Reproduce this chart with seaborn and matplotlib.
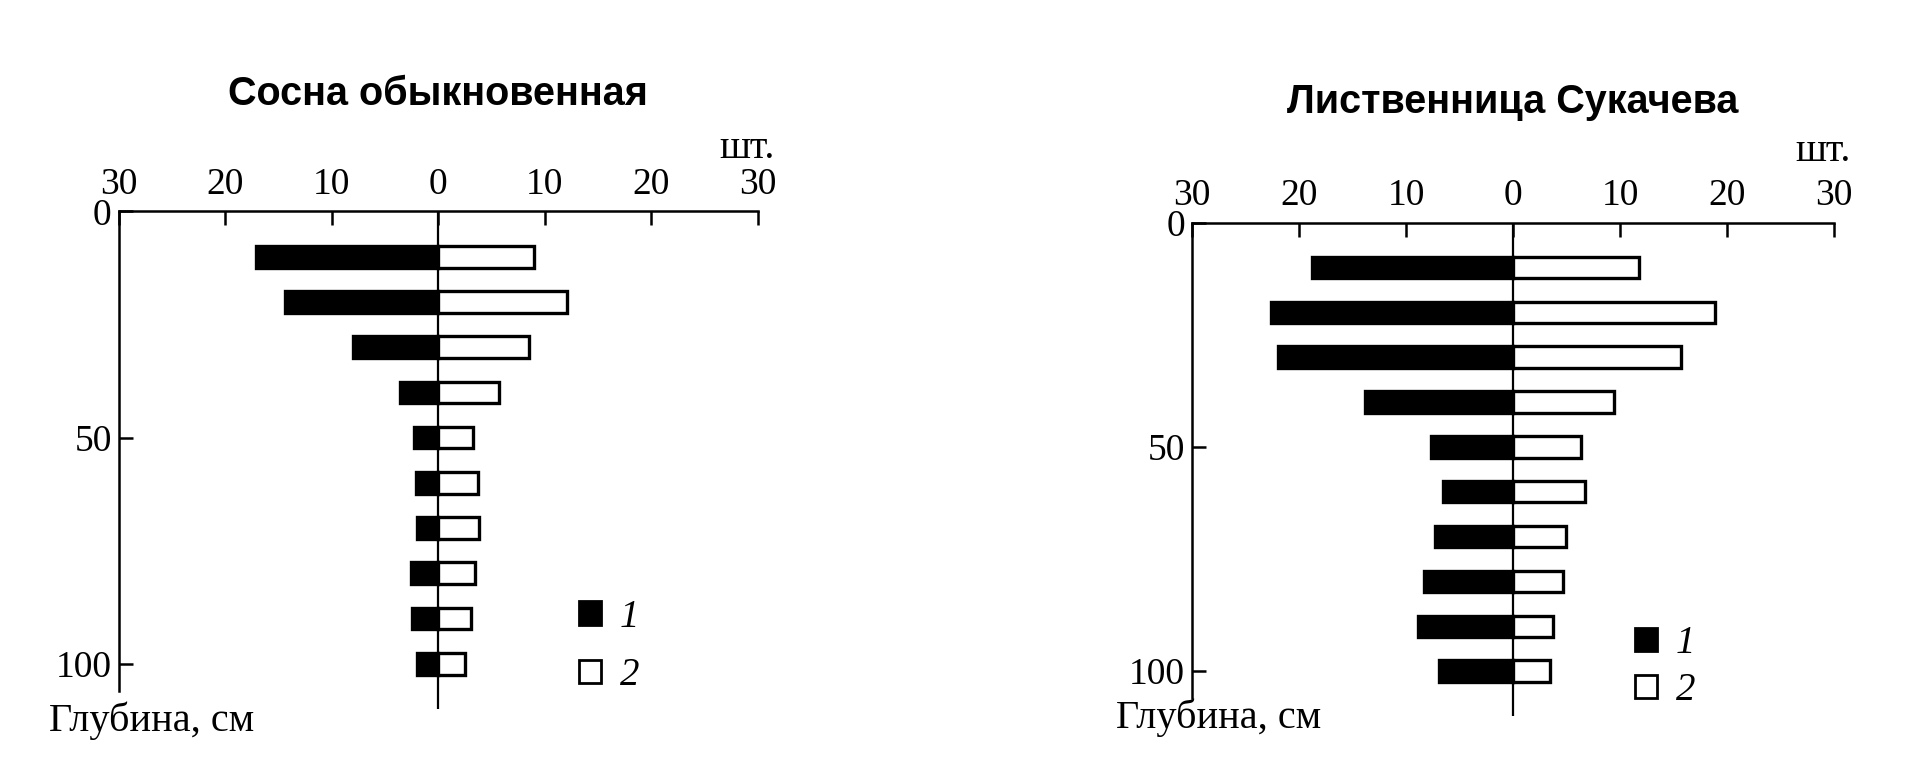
import pandas as pd
import seaborn as sns
import matplotlib.pyplot as plt
from matplotlib.patches import Patch

# depth of layer (cm) and number of roots (шт.) per layer
depth = [10, 20, 30, 40, 50, 60, 70, 80, 90, 100]
pine_1 = [17.1, 14.4, 8.0, 3.6, 2.3, 2.1, 2.0, 2.6, 2.5, 2.0]
pine_2 = [9.0, 12.1, 8.5, 5.7, 3.3, 3.7, 3.8, 3.4, 3.1, 2.5]
larch_1 = [18.8, 22.6, 22.0, 13.8, 7.7, 6.5, 7.3, 8.3, 8.9, 6.9]
larch_2 = [11.8, 18.9, 15.7, 9.4, 6.4, 6.7, 5.0, 4.7, 3.7, 3.5]

x_ticks = [-30, -20, -10, 0, 10, 20, 30]
y_ticks = [0, 50, 100]
titles = ["Сосна обыкновенная", "Лиственница Сукачева"]

sns.set_theme(style="white")
plt.rcParams["font.family"] = ["Liberation Serif", "DejaVu Serif"]
plt.rcParams["text.color"] = "black"
plt.rcParams["xtick.color"] = "black"
plt.rcParams["ytick.color"] = "black"
plt.rcParams["xtick.labelcolor"] = "black"
plt.rcParams["ytick.labelcolor"] = "black"
title_font = ["Liberation Sans Narrow", "Liberation Sans", "DejaVu Sans"]


def make_frame(left, right):
    # series 1 goes to the left (negative), series 2 to the right
    return pd.DataFrame({
        "depth": depth * 2,
        "value": [-v for v in left] + list(right),
        "kind": ["1"] * len(depth) + ["2"] * len(depth),
    })


def draw_panel(ax, df, title, title_y, unit_y, label_x, label_y,
               leg_pos, leg_space):
    sns.barplot(data=df, x="value", y="depth", hue="kind", orient="h",
                native_scale=True, dodge=False, width=0.48,
                palette={"1": "black", "2": "white"},
                edgecolor="black", linewidth=2.4, legend=False, ax=ax)

    ax.set_xlim(-30, 30)
    ax.set_ylim(110, 0)
    ax.axvline(0, color="black", lw=1.6, zorder=0)

    for side in ["right", "bottom"]:
        ax.spines[side].set_visible(False)
    for side in ["left", "top"]:
        ax.spines[side].set_linewidth(1.8)
        ax.spines[side].set_color("black")
    ax.spines["left"].set_bounds(0, 106)

    ax.xaxis.tick_top()
    ax.set_xticks(x_ticks)
    ax.set_xticklabels([str(abs(t)) for t in x_ticks])
    ax.set_yticks(y_ticks)
    ax.set_yticklabels([str(t) for t in y_ticks])
    ax.tick_params(axis="x", direction="in", length=10, width=1.8,
                   labelsize=27, pad=7, color="black", labelcolor="black")
    ax.tick_params(axis="y", direction="in", length=10, width=1.8,
                   labelsize=27, pad=5, color="black", labelcolor="black",
                   left=True)
    ax.set_xlabel("")
    ax.set_ylabel("")

    ax.text(0, title_y, title, ha="center", va="center", fontsize=28.5,
            fontweight="bold", family=title_font, color="black",
            clip_on=False)
    ax.text(29, unit_y, "шт.", ha="center", va="center", fontsize=29,
            color="black", clip_on=False)
    ax.text(label_x, label_y, "Глубина, см", ha="left", va="center",
            fontsize=29, color="black", clip_on=False)

    handles = [Patch(facecolor="black", edgecolor="black", lw=2),
               Patch(facecolor="white", edgecolor="black", lw=2)]
    leg = ax.legend(handles, ["1", "2"], loc="upper left",
                    bbox_to_anchor=leg_pos, frameon=False,
                    handlelength=0.55, handleheight=0.55,
                    handletextpad=0.5, labelspacing=leg_space,
                    borderaxespad=0, prop={"size": 28, "style": "italic"})
    for t in leg.get_texts():
        t.set_color("black")


fig = plt.figure(figsize=(19.17, 7.59), dpi=100)
ax1 = fig.add_axes([0.0619, 0.0659, 0.3335, 0.6555])
ax2 = fig.add_axes([0.6218, 0.0567, 0.3349, 0.650])

draw_panel(ax1, make_frame(pine_1, pine_2), titles[0], -25.9, -14.0,
           -36.5, 112.6, (0.696, 0.253), 0.55)
draw_panel(ax2, make_frame(larch_1, larch_2), titles[1], -26.9, -15.8,
           -37.1, 110.5, (0.666, 0.215), 0.25)

fig.savefig("out.png", dpi=100, facecolor="white")
